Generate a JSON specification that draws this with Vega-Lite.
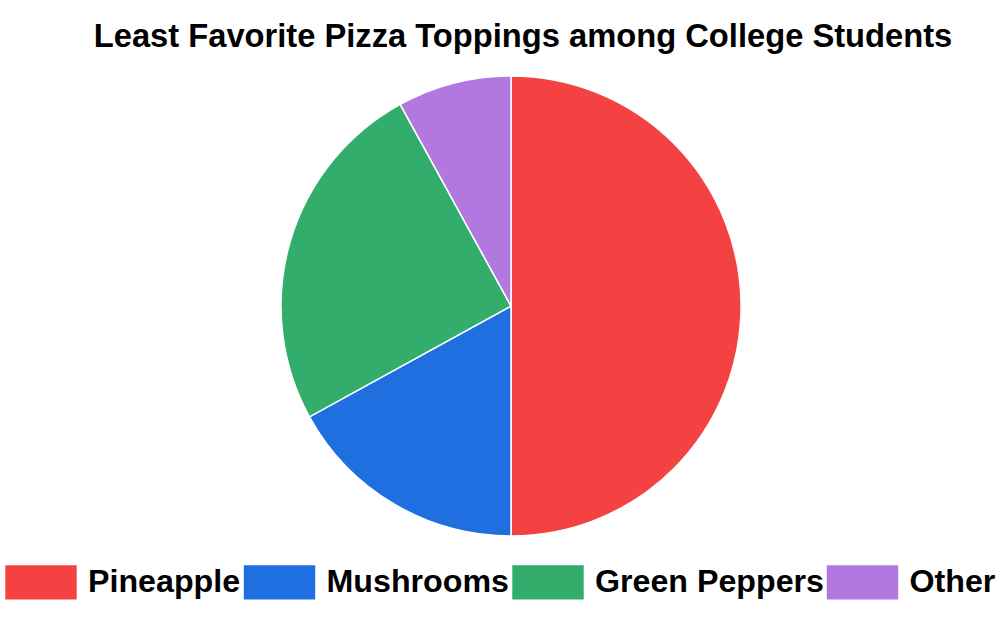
{
  "$schema": "https://vega.github.io/schema/vega-lite/v6.json",
  "autosize": "none",
  "width": 978,
  "height": 460,
  "padding": {"left": 22, "top": 76, "right": 0, "bottom": 85},
  "background": "white",
  "title": {
    "text": "Least Favorite Pizza Toppings among College Students",
    "font": "Liberation Sans",
    "fontSize": 32.7,
    "fontWeight": "bold",
    "color": "#000000",
    "anchor": "middle",
    "dx": 12,
    "dy": 38,
    "offset": 24,
    "baseline": "bottom"
  },
  "data": {
    "values": [
      {"topping": "Pineapple", "percent": 50, "order": 1},
      {"topping": "Mushrooms", "percent": 17, "order": 2},
      {"topping": "Green Peppers", "percent": 25, "order": 3},
      {"topping": "Other", "percent": 8, "order": 4}
    ]
  },
  "mark": {"type": "arc", "stroke": "white", "strokeWidth": 1.5},
  "encoding": {
    "theta": {"field": "percent", "type": "quantitative", "stack": true},
    "order": {"field": "order", "type": "quantitative"},
    "color": {
      "field": "topping",
      "type": "nominal",
      "sort": ["Pineapple", "Mushrooms", "Green Peppers", "Other"],
      "scale": {
        "domain": ["Pineapple", "Mushrooms", "Green Peppers", "Other"],
        "range": ["#f44242", "#1f6fe0", "#33ad6c", "#b378e0"]
      },
      "legend": {
        "title": null,
        "orient": "none",
        "direction": "horizontal",
        "legendX": -17,
        "legendY": 470,
        "symbolType": "M-1,-0.48H1V0.48H-1Z",
        "symbolSize": 5100,
        "symbolStrokeWidth": 0,
        "symbolOpacity": 1,
        "labelFont": "Liberation Sans",
        "labelFontSize": 32.2,
        "labelFontWeight": "bold",
        "labelColor": "#000000",
        "labelOffset": 11,
        "labelLimit": 400,
        "columnPadding": 2.5
      }
    }
  },
  "config": {"view": {"stroke": null}}
}
